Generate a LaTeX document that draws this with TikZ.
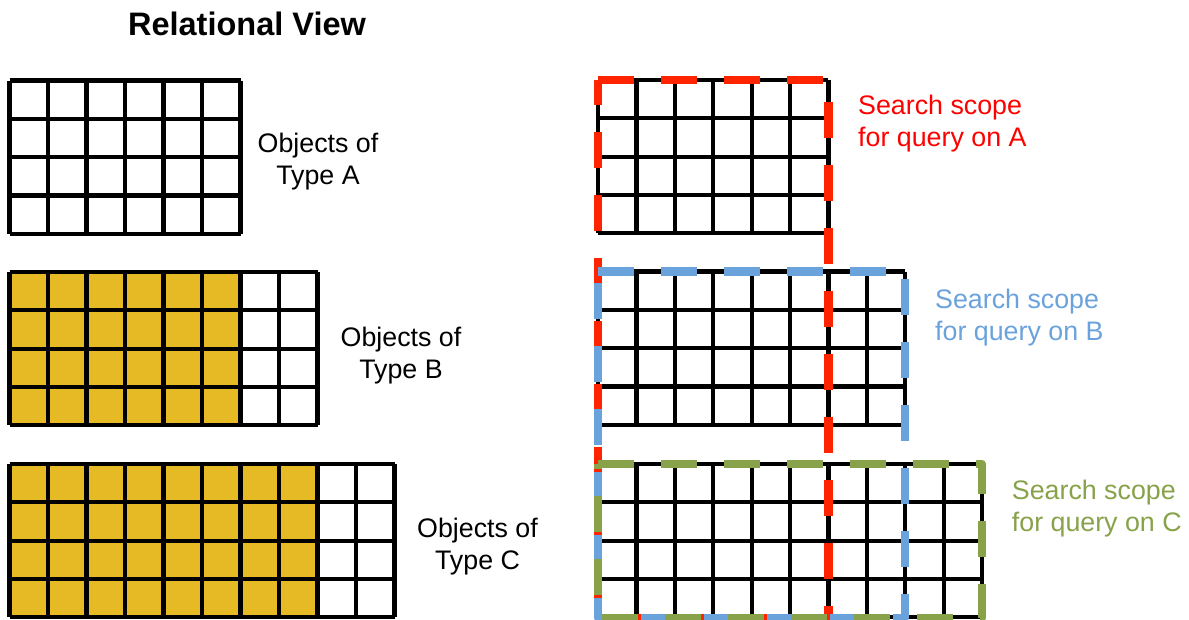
\documentclass[tikz,border=0pt]{standalone}
\usepackage{fontspec}
\setmainfont{Liberation Sans}
\definecolor{cellgold}{RGB}{230,186,36}
\definecolor{scopered}{RGB}{255,36,0}
\definecolor{scopeblue}{RGB}{106,162,220}
\definecolor{scopegreen}{RGB}{136,162,74}
\begin{document}
\begin{tikzpicture}[x=1pt, y=-1pt, line join=round,
    gridline/.style={line width=4.2pt},
    scopeline/.style={line width=8.2pt, dash pattern=on 36pt off 27pt},
    objlabel/.style={font=\fontsize{26.8}{32}\selectfont, align=center, inner sep=0pt},
    scopelabel/.style={objlabel, align=left, anchor=west}]
  \useasboundingbox (0,0) rectangle (1189,619);
  \node[font=\fontsize{32.5}{38}\selectfont\bfseries, anchor=base] (title) at (247,35) {Relational View};
  % Relational View: tables, filled part in gold
  \foreach \x/\y/\n/\k in {9.5/80.5/6/0, 9.5/272/8/6, 9.5/464/10/8} {
    \fill[cellgold] (\x,\y) rectangle ++(\k*38.5,4*38.3);
    \foreach \i in {0,...,\n} \draw[gridline] (\x+\i*38.5,\y) -- ++(0,4*38.3);
    \foreach \j in {0,...,4} \draw[gridline] (\x,\y+\j*38.3) -- ++(\n*38.5,0);
  }
  \node[objlabel] (typeA) at (318,162) {Objects of\\Type A};
  \node[objlabel] (typeB) at (401,355.5) {Objects of\\Type B};
  \node[objlabel] (typeC) at (477.5,547) {Objects of\\Type C};
  % Search scopes
  \foreach \y/\n in {80/6, 271.5/8, 464/10} {
    \foreach \i in {0,...,\n} \draw[gridline] (598+\i*38.4,\y) -- ++(0,4*38.3);
    \foreach \j in {0,...,4} \draw[gridline] (598,\y+\j*38.3) -- ++(\n*38.4,0);
  }
  \draw[scopeline, scopered] (598,80) -- (828.4,80) -- (828.4,618) -- (598,618) -- cycle;
  \draw[scopeline, scopeblue] (598,271.5) -- (905.2,271.5) -- (905.2,618) -- (598,618) -- cycle;
  \draw[scopeline, scopegreen] (598,464) -- (982,464) -- (982,618) -- (598,618) -- cycle;
  \node[scopelabel, text=red] (scopeA) at (858,124) {Search scope\\for query on A};
  \node[scopelabel, text=scopeblue] (scopeB) at (935,317.2) {Search scope\\for query on B};
  \node[scopelabel, text=scopegreen] (scopeC) at (1011.7,508.9) {Search scope\\for query on C};
\end{tikzpicture}
\end{document}
